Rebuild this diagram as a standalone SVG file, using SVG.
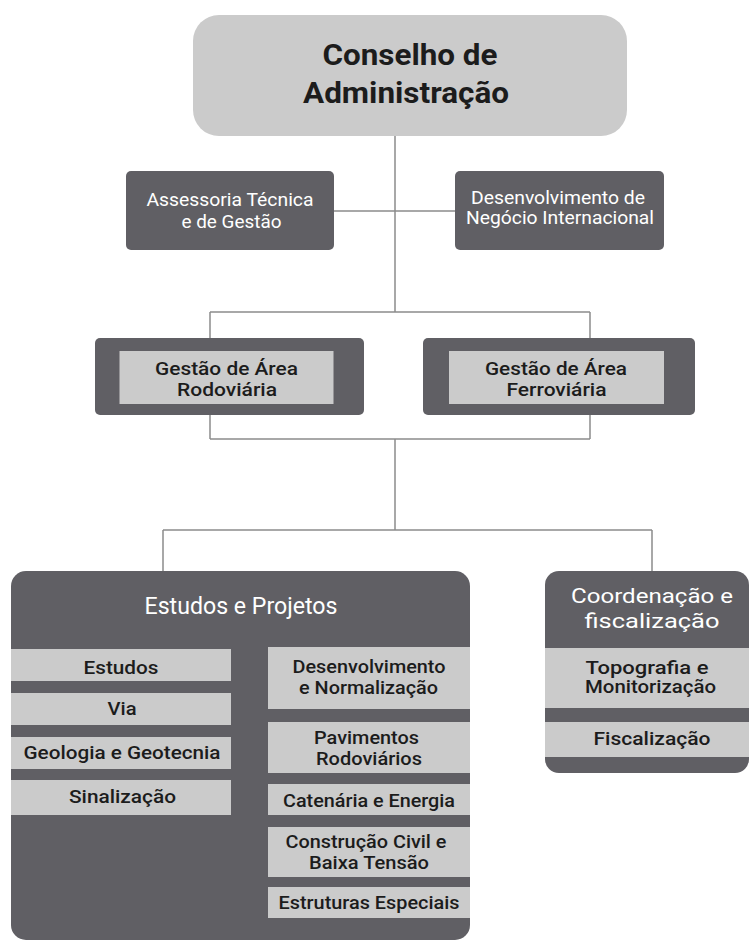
<svg xmlns="http://www.w3.org/2000/svg" width="749" height="942" viewBox="0 0 749 942">
<style>
.dark{fill:#605f64}
.light{fill:#cbcbcb}
.ln{stroke:#8c8c8c;stroke-width:1.5;fill:none}
text{font-family:Roboto,"Liberation Sans",sans-serif;text-anchor:middle}
.w{fill:#ffffff}
.k{fill:#1c1c1c}
.t1{font-size:30px;font-weight:bold}
.t2{font-size:18px}
.t3{font-size:19px;font-weight:500}
.t4{font-size:23px}
.t5{font-size:19px;font-weight:500}
.t6{font-size:21px}
</style>
<rect width="749" height="942" fill="#ffffff"/>
<g id="connectors">
<path class="ln" d="M395,136 V312 M334,211 H455 M210,312 H590 M210,312 V338 M590,312 V338 M210,415 V439 M590,415 V439 M210,439 H590 M395,439 V530 M163,530 H652 M163,530 V571 M652,530 V571"/>
</g>
<g id="conselho">
<rect x="193" y="15" width="434" height="121" rx="26" class="light"/>
<text x="410" y="65" class="t1 k" textLength="175" lengthAdjust="spacingAndGlyphs">Conselho de</text>
<text x="406" y="103" class="t1 k" textLength="206" lengthAdjust="spacingAndGlyphs">Administração</text>
</g>
<g id="assessoria">
<rect x="126" y="171" width="208" height="79" rx="5" class="dark"/>
<text x="230" y="205.5" class="t2 w" textLength="167" lengthAdjust="spacingAndGlyphs">Assessoria Técnica</text>
<text x="231.5" y="228" class="t2 w" textLength="100" lengthAdjust="spacingAndGlyphs">e de Gestão</text>
</g>
<g id="desenvolvimento-negocio">
<rect x="455" y="171" width="209" height="79" rx="5" class="dark"/>
<text x="558" y="203.5" class="t2 w" textLength="174" lengthAdjust="spacingAndGlyphs">Desenvolvimento de</text>
<text x="560" y="224" class="t2 w" textLength="188" lengthAdjust="spacingAndGlyphs">Negócio Internacional</text>
</g>
<g id="gestao-rodoviaria">
<rect x="95" y="338" width="269" height="77" rx="5" class="dark"/>
<rect x="119.5" y="351" width="214" height="53" class="light"/>
<text x="226.5" y="375" class="t3 k" textLength="143" lengthAdjust="spacingAndGlyphs">Gestão de Área</text>
<text x="227" y="395.5" class="t3 k" textLength="100" lengthAdjust="spacingAndGlyphs">Rodoviária</text>
</g>
<g id="gestao-ferroviaria">
<rect x="423" y="338" width="272" height="77" rx="5" class="dark"/>
<rect x="449" y="351" width="215" height="53" class="light"/>
<text x="556" y="375" class="t3 k" textLength="142" lengthAdjust="spacingAndGlyphs">Gestão de Área</text>
<text x="556.5" y="395.5" class="t3 k" textLength="100" lengthAdjust="spacingAndGlyphs">Ferroviária</text>
</g>
<g id="estudos-projetos">
<rect x="11" y="571" width="459" height="369" rx="15" class="dark"/>
<text x="241" y="614" class="t4 w" textLength="193" lengthAdjust="spacingAndGlyphs">Estudos e Projetos</text>
<rect x="11" y="649" width="220" height="32" class="light"/>
<text x="121" y="674" class="t5 k" textLength="75" lengthAdjust="spacingAndGlyphs">Estudos</text>
<rect x="11" y="693" width="220" height="32" class="light"/>
<text x="122" y="715" class="t5 k" textLength="29" lengthAdjust="spacingAndGlyphs">Via</text>
<rect x="11" y="737" width="220" height="32" class="light"/>
<text x="122" y="759" class="t5 k" textLength="197" lengthAdjust="spacingAndGlyphs">Geologia e Geotecnia</text>
<rect x="11" y="780" width="220" height="35" class="light"/>
<text x="122.5" y="803" class="t5 k" textLength="107" lengthAdjust="spacingAndGlyphs">Sinalização</text>
<rect x="268" y="647" width="202" height="62" class="light"/>
<text x="369" y="672.5" class="t5 k" textLength="153" lengthAdjust="spacingAndGlyphs">Desenvolvimento</text>
<text x="368.5" y="693.5" class="t5 k" textLength="139" lengthAdjust="spacingAndGlyphs">e Normalização</text>
<rect x="268" y="722" width="202" height="51" class="light"/>
<text x="366.5" y="744" class="t5 k" textLength="105" lengthAdjust="spacingAndGlyphs">Pavimentos</text>
<text x="369" y="764.5" class="t5 k" textLength="106" lengthAdjust="spacingAndGlyphs">Rodoviários</text>
<rect x="268" y="784" width="202" height="31" class="light"/>
<text x="369" y="806.5" class="t5 k" textLength="172" lengthAdjust="spacingAndGlyphs">Catenária e Energia</text>
<rect x="268" y="827" width="202" height="50" class="light"/>
<text x="366" y="847.5" class="t5 k" textLength="161" lengthAdjust="spacingAndGlyphs">Construção Civil e</text>
<text x="369" y="868.5" class="t5 k" textLength="120" lengthAdjust="spacingAndGlyphs">Baixa Tensão</text>
<rect x="268" y="887" width="202" height="31" class="light"/>
<text x="369" y="908.5" class="t5 k" textLength="181" lengthAdjust="spacingAndGlyphs">Estruturas Especiais</text>
</g>
<g id="coordenacao">
<rect x="545" y="571" width="204" height="202" rx="14" class="dark"/>
<text x="652" y="603" class="t6 w" textLength="162" lengthAdjust="spacingAndGlyphs">Coordenação e</text>
<text x="652" y="628" class="t6 w" textLength="135" lengthAdjust="spacingAndGlyphs">fiscalização</text>
<rect x="545" y="648" width="204" height="60" class="light"/>
<text x="647" y="673.5" class="t5 k" textLength="123" lengthAdjust="spacingAndGlyphs">Topografia e</text>
<text x="650.5" y="693" class="t5 k" textLength="131" lengthAdjust="spacingAndGlyphs">Monitorização</text>
<rect x="545" y="722" width="204" height="35" class="light"/>
<text x="652" y="744.5" class="t5 k" textLength="117" lengthAdjust="spacingAndGlyphs">Fiscalização</text>
</g>
</svg>
